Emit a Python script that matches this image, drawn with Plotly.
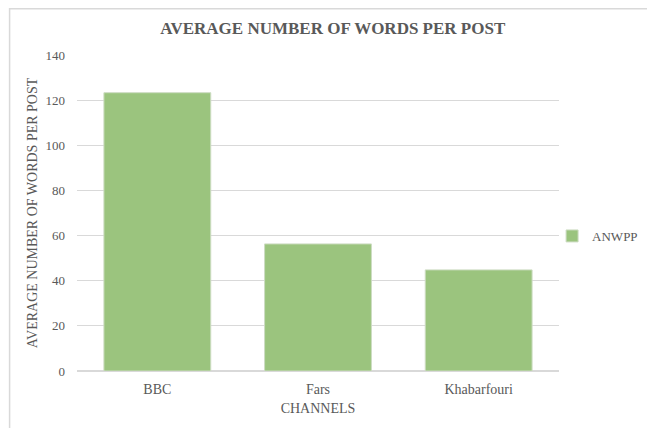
import plotly.graph_objects as go

categories = ["BBC", "Fars", "Khabarfouri"]
anwpp = [123.3, 56.3, 44.8]
series_name = "ANWPP"
y_ticks = [0, 20, 40, 60, 80, 100, 120, 140]

FONT = "Liberation Serif"
TXT = "#595959"
GRID = "#d9d9d9"

fig = go.Figure()
fig.add_trace(go.Bar(
    x=categories, y=anwpp, name=series_name,
    marker=dict(color="rgb(155,196,126)", line=dict(color="rgb(205,220,195)", width=1)),
    showlegend=True,
))

OFF = 8  # default page body margin
PAGE_W, PAGE_H = 655, 428
W, H = PAGE_W - OFF, PAGE_H - OFF
# plot area in page pixels: x 77..565, y 55..371
L, R, T, B = 77 - OFF, W - (565 - OFF), 55 - OFF, H - (371 - OFF)
pw, ph = W - L - R, H - T - B

def px_x(p):
    return (p - OFF - L) / pw

def px_y(p):
    return (H - B - (p - OFF)) / ph

fig.update_layout(
    width=W, height=H,
    margin=dict(l=L, r=R, t=T, b=B),
    paper_bgcolor="white", plot_bgcolor="white",
    font=dict(family=FONT, color=TXT, size=13),
    bargap=0.335,
    title=dict(text="<b>AVERAGE NUMBER OF WORDS PER POST</b>",
               font=dict(family=FONT, size=17, color=TXT),
               x=px_x(322), xanchor="center", y=1 - (28 - OFF) / H, yanchor="middle"),
    showlegend=True,
    legend=dict(x=px_x(558), y=px_y(236), xanchor="left", yanchor="middle",
                font=dict(family=FONT, size=13, color=TXT),
                bgcolor="rgba(0,0,0,0)"),
    xaxis=dict(
        title=dict(text="CHANNELS", font=dict(family=FONT, size=14, color=TXT), standoff=7),
        showgrid=False, showline=True, linecolor=GRID, linewidth=1,
        tickfont=dict(family=FONT, size=14, color=TXT), ticks="", ticklabelstandoff=5,
    ),
    yaxis=dict(
        title=dict(text="AVERAGE NUMBER OF WORDS PER POST",
                   font=dict(family=FONT, size=14, color=TXT), standoff=4),
        range=[0, 140], tickvals=y_ticks, showgrid=True, gridcolor=GRID, gridwidth=1,
        zeroline=True, zerolinecolor=GRID, showline=False,
        tickfont=dict(family=FONT, size=13, color=TXT), ticks="", ticklabelstandoff=11,
    ),
    shapes=[dict(type="rect", xref="paper", yref="paper",
                 x0=px_x(OFF + 0.75), x1=px_x(PAGE_W + 20), y0=px_y(PAGE_H + 20), y1=px_y(OFF + 0.75),
                 line=dict(color=GRID, width=1.5), fillcolor="rgba(0,0,0,0)", layer="below")],
)

fig.write_html("out.html", config={"displayModeBar": False})
